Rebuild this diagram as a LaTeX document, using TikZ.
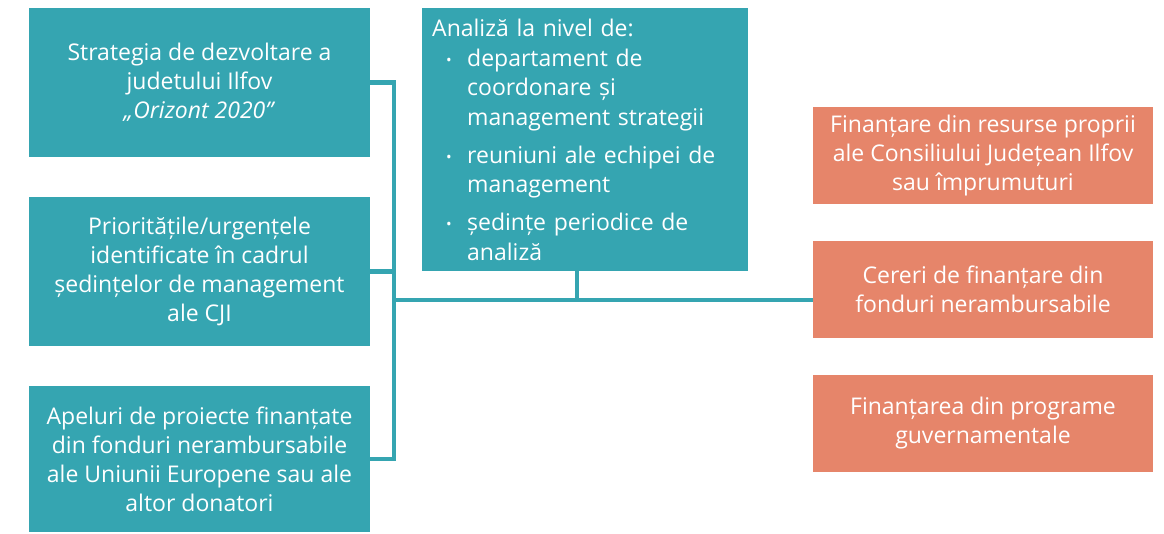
\documentclass[tikz,border=0pt]{standalone}
\usepackage{fontspec}
\setmainfont{Open Sans}
\definecolor{teal}{HTML}{35A5B1}
\definecolor{salmon}{HTML}{E6856A}
\newcommand{\bul}{\makebox[21pt][l]{\raisebox{1pt}{\fontsize{15}{15}\selectfont•}}}
\begin{document}
\begin{tikzpicture}[x=1pt,y=-1pt,
  tbox/.style={fill=teal,text=white,inner sep=0pt,align=center,
    font=\fontsize{23}{29}\selectfont},
  obox/.style={fill=salmon,text=white,inner sep=0pt,align=center,
    minimum width=340pt,minimum height=97pt,
    font=\fontsize{23}{29}\selectfont},
  conn/.style={draw=teal,line width=4.5pt}]
\useasboundingbox (0,0) rectangle (1164,533);
\node[tbox,minimum width=341pt,minimum height=149pt] (A) at (199.5,82.5)
  {Strategia de dezvoltare a\\ judetului Ilfov\\ \textit{„Orizont 2020”}};
\node[tbox,minimum width=341pt,minimum height=149pt] (B) at (199.5,271.5)
  {Prioritățile/urgențele\\ identificate în cadrul\\ ședințelor de management\\ ale CJI};
\node[tbox,minimum width=341pt,minimum height=146pt] (C) at (199.5,459)
  {Apeluri de proiecte finanțate\\ din fonduri nerambursabile\\ ale Uniunii Europene sau ale\\ altor donatori};
\node[tbox,minimum width=326pt,minimum height=263pt,align=left,anchor=north west,
  text width=326pt,font=\fontsize{23}{29.7}\selectfont] (D) at (422,8)
  {\hspace*{10pt}Analiză la nivel de:\\
   \hspace*{24pt}\bul departament de\\
   \hspace*{45pt}coordonare și\\
   \hspace*{45pt}management strategii\\[8pt]
   \hspace*{24pt}\bul reuniuni ale echipei de\\
   \hspace*{45pt}management\\[8pt]
   \hspace*{24pt}\bul ședințe periodice de\\
   \hspace*{45pt}analiză};
\node[obox] (E) at (983,155.5)
  {Finanțare din resurse proprii\\ ale Consiliului Județean Ilfov\\ sau împrumuturi};
\node[obox] (F) at (983,289.5)
  {Cereri de finanțare din\\ fonduri nerambursabile};
\node[obox] (G) at (983,423.5)
  {Finanțarea din programe\\ guvernamentale};
\coordinate (j) at (394,300);
\draw[conn] (A.east) -| (j);
\draw[conn] (B.east) -| (j);
\draw[conn] (C.east) -| (j);
\draw[conn] (j) -- (j -| F.west);
\draw[conn] (D.south -| 577,0) -- (577,300);
\end{tikzpicture}
\end{document}
